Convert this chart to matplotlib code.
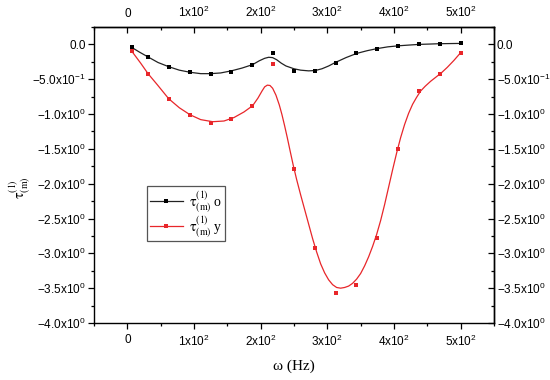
#!/usr/bin/env python3
import matplotlib
matplotlib.use('Agg')
import matplotlib.pyplot as plt
from matplotlib.lines import Line2D
from matplotlib.ticker import MultipleLocator
from matplotlib.font_manager import FontProperties

# measured points (frequency in Hz)
OMEGA = [6.25, 31.25, 62.5, 93.75, 125, 156.25, 187.5, 218.75, 250,
         281.25, 312.5, 343.75, 375, 406.25, 437.5, 468.75, 500]
TAU_O = [-0.04, -0.18, -0.32, -0.40, -0.43, -0.39, -0.295, -0.123, -0.386,
         -0.386, -0.26, -0.123, -0.07, -0.02, 0.0, 0.01, 0.014]
TAU_Y = [-0.09, -0.42, -0.78, -1.01, -1.13, -1.07, -0.88, -0.28, -1.79,
         -2.93, -3.57, -3.45, -2.78, -1.50, -0.67, -0.43, -0.12]

# fitted curves
FIT_O_X = [6, 18, 31, 46, 62, 78, 94, 110, 125, 140, 156, 172, 188, 198, 206,
           212, 218, 224, 231, 238, 250, 260, 272, 282, 292, 302, 312, 328,
           344, 360, 375, 391, 407, 422, 438, 454, 469, 485, 500]
FIT_O_Y = [-0.04, -0.11, -0.18, -0.26, -0.32, -0.37, -0.40, -0.42, -0.42,
           -0.41, -0.38, -0.34, -0.29, -0.235, -0.20, -0.185, -0.19, -0.22,
           -0.27, -0.31, -0.35, -0.37, -0.38, -0.375, -0.35, -0.31, -0.26,
           -0.19, -0.13, -0.09, -0.06, -0.035, -0.02, -0.01, 0.0, 0.005,
           0.01, 0.012, 0.014]
FIT_Y_X = [6, 20, 31, 45, 62, 78, 94, 110, 128, 145, 160, 175, 188, 196, 202,
           206, 210, 214, 218, 223, 228, 232, 236, 240, 244, 249, 254, 260,
           266, 272, 278, 284, 290, 296, 302, 308, 314, 320, 326, 332, 338,
           344, 350, 356, 362, 368, 374, 380, 386, 392, 398, 404, 410, 416,
           422, 428, 434, 440, 447, 455, 463, 471, 480, 490, 500]
FIT_Y_Y = [-0.09, -0.27, -0.42, -0.58, -0.78, -0.91, -1.01, -1.08, -1.11,
           -1.10, -1.05, -0.97, -0.88, -0.77, -0.67, -0.61, -0.585, -0.59,
           -0.63, -0.73, -0.87, -1.01, -1.17, -1.34, -1.52, -1.74, -1.94,
           -2.16, -2.37, -2.58, -2.79, -2.98, -3.15, -3.28, -3.38, -3.45,
           -3.49, -3.50, -3.49, -3.47, -3.43, -3.37, -3.29, -3.18, -3.05,
           -2.90, -2.73, -2.53, -2.30, -2.05, -1.80, -1.56, -1.34, -1.15,
           -0.99, -0.86, -0.76, -0.67, -0.60, -0.53, -0.47, -0.41, -0.33,
           -0.23, -0.12]

X_TICKS = [0, 100, 200, 300, 400, 500]
X_LABELS = ['0', '1x10$^2$', '2x10$^2$', '3x10$^2$', '4x10$^2$', '5x10$^2$']
Y_TICKS = [0.0, -0.5, -1.0, -1.5, -2.0, -2.5, -3.0, -3.5, -4.0]
Y_LABELS = ['0.0', '\u22125.0x10$^{-1}$', '\u22121.0x10$^0$', '\u22121.5x10$^0$',
            '\u22122.0x10$^0$', '\u22122.5x10$^0$', '\u22123.0x10$^0$',
            '\u22123.5x10$^0$', '\u22124.0x10$^0$']

BLACK = '#222222'
RED = '#e8262a'

plt.rcParams['font.family'] = ['Liberation Sans', 'DejaVu Sans']
plt.rcParams['mathtext.fontset'] = 'custom'
plt.rcParams['mathtext.rm'] = 'Liberation Sans'
plt.rcParams['mathtext.it'] = 'Liberation Sans:italic'
plt.rcParams['axes.linewidth'] = 1.0

TICK_FS = 8.5
MS = 2.4
serif = FontProperties(family='Liberation Serif', size=10, math_fontfamily='stix')
TAU = '$\\mathrm{\u03c4}^{(1)}_{(\\mathrm{m})}$'


def main():
    fig = plt.figure(figsize=(5.5, 3.8), dpi=100)
    ax = fig.add_axes([0.171, 0.150, 0.727, 0.779])

    ax.plot(FIT_O_X, FIT_O_Y, color=BLACK, lw=0.9)
    ax.plot(OMEGA, TAU_O, 's', color='black', ms=MS, mew=0)
    ax.plot(FIT_Y_X, FIT_Y_Y, color=RED, lw=0.9)
    ax.plot(OMEGA, TAU_Y, 's', color=RED, ms=MS, mew=0)

    ax.set_xlim(-50, 550)
    ax.set_ylim(-4.0, 0.25)

    ax.set_xticks(X_TICKS, X_LABELS)
    ax.set_yticks(Y_TICKS, Y_LABELS)
    ax.xaxis.set_minor_locator(MultipleLocator(50))
    ax.yaxis.set_minor_locator(MultipleLocator(0.25))
    ax.tick_params(which='major', direction='out', length=4, width=0.9,
                   labelsize=TICK_FS)
    ax.tick_params(which='minor', direction='out', length=2, width=0.9)
    ax.tick_params(axis='y', pad=2)
    ax.tick_params(axis='x', pad=4)

    top = ax.secondary_xaxis('top')
    top.set_xticks(X_TICKS, X_LABELS)
    top.xaxis.set_minor_locator(MultipleLocator(50))
    top.tick_params(which='major', direction='in', length=4, width=0.9,
                    labelsize=TICK_FS, pad=5)
    top.tick_params(which='minor', direction='in', length=2, width=0.9)

    right = ax.secondary_yaxis('right')
    right.set_yticks(Y_TICKS, Y_LABELS)
    right.yaxis.set_minor_locator(MultipleLocator(0.25))
    right.tick_params(which='major', direction='in', length=4, width=0.9,
                      labelsize=TICK_FS, pad=2)
    right.tick_params(which='minor', direction='in', length=2, width=0.9)

    handles = [
        Line2D([], [], color=BLACK, lw=0.9, marker='s', ms=2.2,
               mfc='black', mew=0),
        Line2D([], [], color=RED, lw=0.9, marker='s', ms=2.2,
               mfc=RED, mew=0),
    ]
    labels = [TAU + ' o', TAU + ' y']
    leg = ax.legend(handles, labels, loc='upper left',
                    bbox_to_anchor=(0.1325, 0.463), borderaxespad=0,
                    prop=serif, fancybox=False, edgecolor='#555555',
                    framealpha=1, handlelength=2.4, handletextpad=0.4,
                    labelspacing=0.0, borderpad=0.2)
    leg.get_frame().set_linewidth(0.9)

    fig.text(0.534, 0.037, '\u03c9 (Hz)', ha='center', va='center',
             fontproperties=FontProperties(family='Liberation Serif', size=11))
    fig.text(0.035, 0.505, TAU, ha='center', va='center',
             rotation=90, fontproperties=serif)

    fig.savefig('out.png', dpi=100)
    plt.close(fig)


if __name__ == '__main__':
    main()
